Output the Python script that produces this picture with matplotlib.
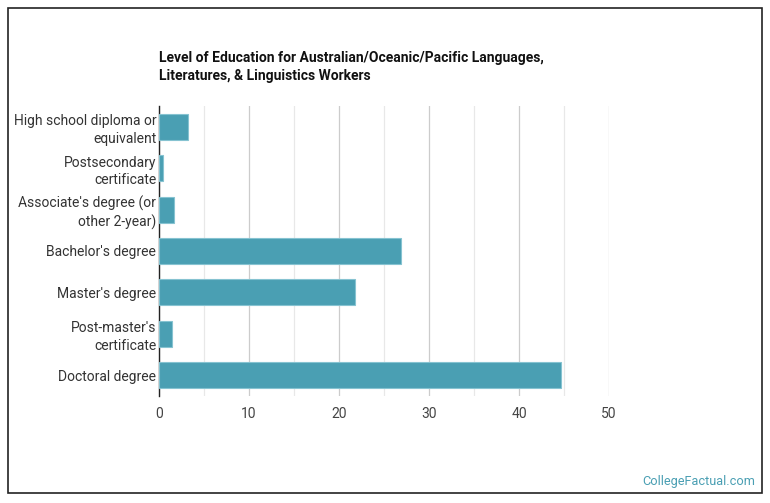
import matplotlib
matplotlib.use("Agg")
import matplotlib.pyplot as plt
from matplotlib.patches import Rectangle

categories = ["High school diploma or\nequivalent", "Postsecondary\ncertificate",
              "Associate's degree (or\nother 2-year)", "Bachelor's degree",
              "Master's degree", "Post-master's\ncertificate", "Doctoral degree"]
values = [3.2, 0.45, 1.7, 26.9, 21.8, 1.45, 44.7]
xticks = [0, 10, 20, 30, 40, 50]
minor_ticks = [5, 15, 25, 35, 45]
title = "Level of Education for Australian/Oceanic/Pacific Languages,\nLiteratures, & Linguistics Workers"

plt.rcParams['font.family'] = ['Roboto', 'DejaVu Sans']

W, H = 770, 503
fig = plt.figure(figsize=(W/100, H/100), dpi=100)
fig.patch.set_facecolor('white')

# outer frame
fig.patches.append(Rectangle((8/W, 1 - 493/H), (762-8)/W, (493-8)/H,
                             transform=fig.transFigure, fill=False,
                             edgecolor='#222222', linewidth=1.2))

left, right, top, bottom = 159, 609, 106, 396
ax = fig.add_axes([left/W, 1 - bottom/H, (right-left)/W, (bottom-top)/H])

y = list(range(len(categories)))
ax.barh(y, values, height=0.63, color='#4a9fb3', edgecolor='#86c3d1', linewidth=0.8, zorder=3)
ax.set_ylim(len(categories) - 0.5, -0.5)
ax.set_xlim(0, 50)
ax.set_yticks(y)
ax.set_yticklabels(categories, fontsize=10, color='#333333', linespacing=1.3)
ax.set_xticks(xticks)
ax.set_xticklabels([str(t) for t in xticks], fontsize=10, color='#444444')
ax.set_xticks(minor_ticks, minor=True)
ax.grid(axis='x', which='major', color='#cccccc', linewidth=0.9, zorder=0)
ax.grid(axis='x', which='minor', color='#e8e8e8', linewidth=0.9, zorder=0)
ax.tick_params(axis='both', which='both', length=0)
ax.tick_params(axis='y', pad=2)
ax.tick_params(axis='x', pad=8)
for s in ['top', 'right', 'bottom']:
    ax.spines[s].set_visible(False)
ax.spines['left'].set_color('#222222')
ax.spines['left'].set_linewidth(1.0)
ax.set_facecolor('white')

fig.text(159/W, 1 - 51/H, title, ha='left', va='top', fontsize=10,
         fontweight='bold', color='#111111', linespacing=1.4)
fig.text(755/W, 1 - 481/H, "CollegeFactual.com", ha='right', va='center',
         fontsize=9.2, color='#4a9fb3')

fig.savefig("out.png", dpi=100)
